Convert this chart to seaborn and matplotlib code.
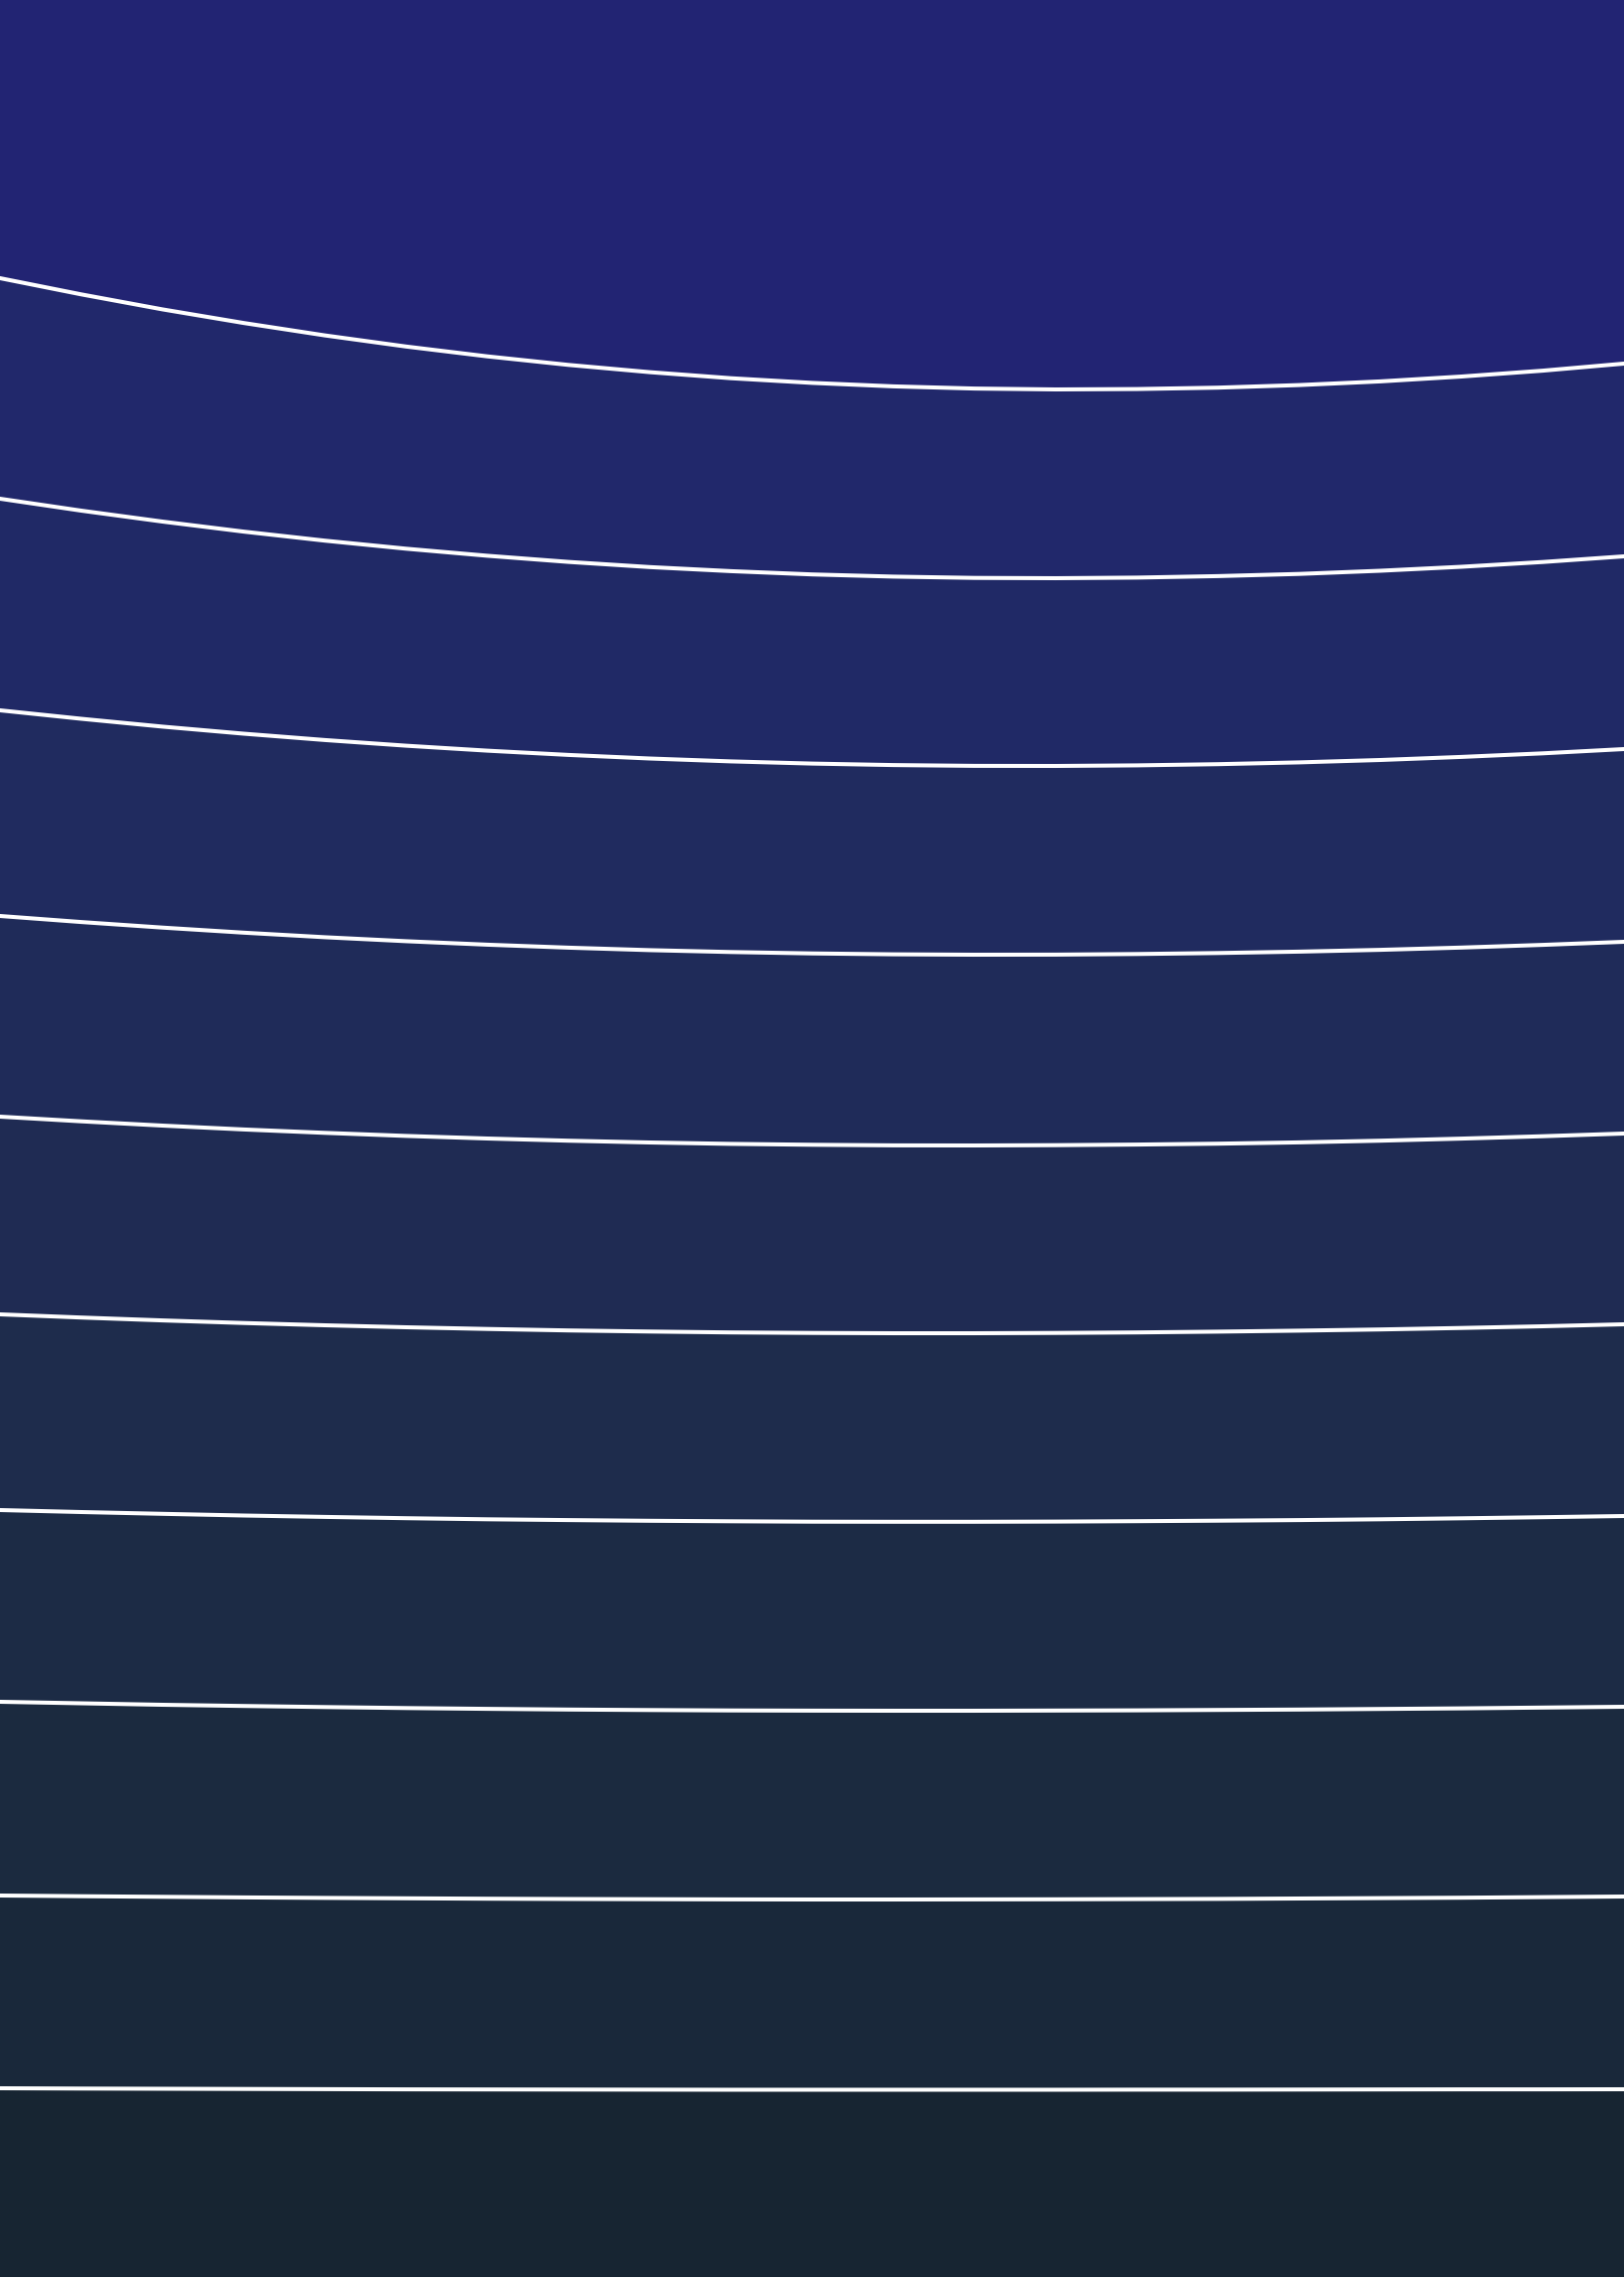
import numpy as np
import pandas as pd
import matplotlib.pyplot as plt
import seaborn as sns

# =========================
# DATA (curve depth, pixels from the top)
# =========================
x_pos = [0.0, 0.05, 0.1, 0.15, 0.2, 0.25, 0.3, 0.35, 0.4, 0.45, 0.5,
         0.55, 0.6, 0.65, 0.7, 0.75, 0.8, 0.85, 0.9, 0.95, 1.0]

curve_1 = [280, 296.3, 311.4, 325.1, 337.6, 348.8, 358.7, 367.3, 374.6, 380.7, 385.4,
           388.9, 391.1, 392.0, 391.6, 390.2, 387.6, 383.9, 379.0, 373.1, 366]
curve_2 = [502, 514.0, 525.0, 535.1, 544.2, 552.3, 559.4, 565.6, 570.8, 574.9, 578.2,
           580.4, 581.7, 582.0, 581.4, 579.9, 577.7, 574.5, 570.5, 565.7, 560]
curve_3 = [715, 723.5, 731.4, 738.5, 744.9, 750.6, 755.6, 759.9, 763.5, 766.4, 768.6,
           770.1, 770.9, 771.0, 770.4, 769.2, 767.4, 765.0, 761.9, 758.3, 754]
curve_4 = [922, 928.1, 933.7, 938.8, 943.4, 947.4, 950.9, 953.9, 956.4, 958.3, 959.7,
           960.6, 961.0, 960.9, 960.3, 959.3, 957.9, 956.1, 953.8, 951.1, 948]
curve_5 = [1124, 1128.7, 1133.0, 1136.9, 1140.3, 1143.4, 1146.0, 1148.2, 1150.0, 1151.4, 1152.3,
           1152.9, 1153.0, 1152.7, 1152.1, 1151.2, 1149.9, 1148.2, 1146.1, 1143.7, 1141]
curve_6 = [1323, 1326.2, 1329.1, 1331.7, 1334.0, 1336.0, 1337.7, 1339.2, 1340.3, 1341.2, 1341.7,
           1342.0, 1342.0, 1341.7, 1341.2, 1340.4, 1339.4, 1338.2, 1336.7, 1335.0, 1333]
curve_7 = [1520, 1522.0, 1523.8, 1525.5, 1526.9, 1528.2, 1529.3, 1530.1, 1530.8, 1531.3, 1531.7,
           1531.8, 1531.8, 1531.6, 1531.2, 1530.7, 1530.1, 1529.3, 1528.3, 1527.2, 1526]
curve_8 = [1713, 1714.5, 1716.0, 1717.2, 1718.3, 1719.3, 1720.1, 1720.8, 1721.3, 1721.7, 1721.9,
           1722.0, 1722.0, 1721.8, 1721.6, 1721.2, 1720.8, 1720.2, 1719.6, 1718.8, 1718]
curve_9 = [1908, 1908.7, 1909.3, 1909.9, 1910.4, 1910.8, 1911.2, 1911.5, 1911.7, 1911.9, 1912.0,
           1912.0, 1911.9, 1911.8, 1911.6, 1911.4, 1911.0, 1910.6, 1910.2, 1909.6, 1909]
curve_10 = [2102, 2102.3, 2102.5, 2102.7, 2102.9, 2103.1, 2103.2, 2103.3, 2103.4, 2103.5, 2103.5,
            2103.5, 2103.5, 2103.5, 2103.4, 2103.4, 2103.3, 2103.2, 2103.1, 2103.1, 2103]

curves = [curve_1, curve_2, curve_3, curve_4, curve_5,
          curve_6, curve_7, curve_8, curve_9, curve_10]

band_colors = ["#222473", "#21286b", "#202966", "#202b5f", "#1f2b59", "#1f2b53",
               "#1e2c4c", "#1c2b45", "#1b2a3f", "#19283a", "#172532"]

# long table for seaborn
df = pd.DataFrame({
    "x": np.tile(x_pos, len(curves)),
    "y": np.concatenate(curves),
    "curve": np.repeat(np.arange(len(curves)), len(x_pos)),
})

# =========================
# FIGURE
# =========================
W, H = 1635, 2294
fig = plt.figure(figsize=(W / 100, H / 100), dpi=100, facecolor="white")
ax = fig.add_axes([0, 2 / H, 1, (H - 2) / H])

# bands between the curves
top = np.zeros(len(x_pos))
for i, c in enumerate(curves):
    ax.fill_between(x_pos, top, c, color=band_colors[i], lw=0)
    top = np.array(c)
ax.fill_between(x_pos, top, H, color=band_colors[-1], lw=0)

# white lines
sns.lineplot(data=df, x="x", y="y", units="curve", estimator=None,
             color="white", lw=2.9, ax=ax, legend=False)

ax.set_xlim(0, 1)
ax.set_ylim(H - 2, 0)
ax.axis("off")

fig.savefig("out.png", dpi=100, facecolor="white")
